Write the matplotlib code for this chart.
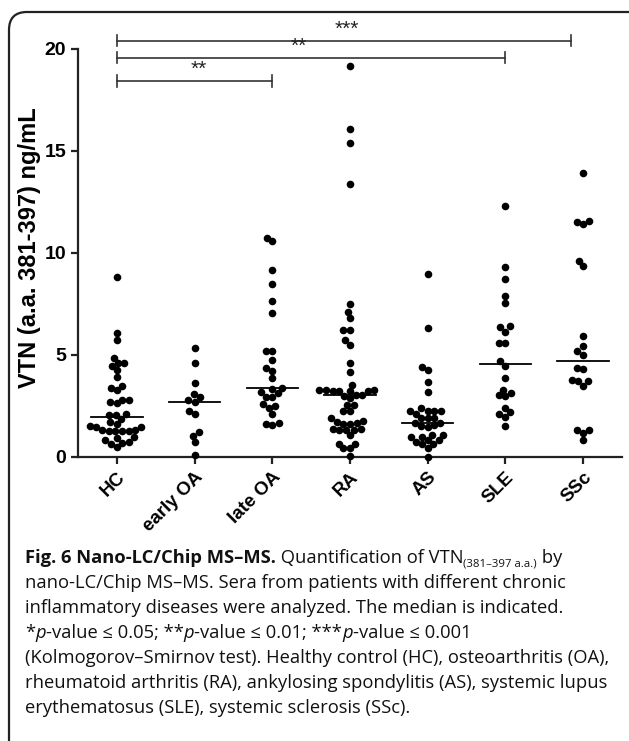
import numpy as np
import matplotlib
matplotlib.use('Agg')
import matplotlib.pyplot as plt
from matplotlib.patches import FancyBboxPatch
from matplotlib.transforms import IdentityTransform

groups = ['HC', 'early OA', 'late OA', 'RA', 'AS', 'SLE', 'SSc']

hc = [8.8, 6.08, 5.73, 4.83, 4.57, 4.60, 4.44, 4.24, 3.90, 3.39, 3.49, 3.28,
      2.80, 2.80, 2.62, 2.69, 2.08, 2.03, 1.83, 2.05, 1.59, 1.47, 1.46, 1.51,
      1.69, 1.30, 1.26, 1.28, 1.24, 1.27, 1.29, 0.92, 0.80, 0.67, 0.95, 0.73,
      0.62, 0.46]
early_oa = [5.33, 4.58, 3.60, 2.91, 3.08, 2.80, 2.70, 2.26, 2.11, 1.19, 1.03,
            0.71, 0.08]
late_oa = [10.74, 10.56, 9.17, 8.47, 7.63, 7.02, 5.17, 5.17, 4.74, 4.36, 4.20,
           3.87, 3.38, 3.30, 3.19, 2.93, 2.93, 3.11, 2.50, 2.39, 2.57, 2.11,
           1.67, 1.55, 1.62]
ra = [19.17, 16.08, 15.36, 13.37, 7.49, 7.09, 6.78, 6.21, 6.21, 5.70, 5.49,
      4.61, 4.14, 3.51, 3.29, 3.25, 3.22, 3.29, 3.22, 3.20, 3.22, 3.04, 3.04,
      2.97, 2.86, 2.52, 2.55, 2.24, 2.24, 1.88, 1.72, 1.62, 1.62, 1.65, 1.75,
      1.37, 1.31, 1.31, 1.31, 1.37, 1.05, 0.64, 0.64, 0.41, 0.41, 0.03]
as_ = [8.95, 6.29, 4.25, 4.39, 3.65, 3.16, 2.26, 2.26, 2.08, 2.37, 2.26, 2.25,
       1.88, 1.90, 1.89, 1.67, 1.54, 1.44, 1.52, 1.67, 1.06, 0.98, 0.98, 1.06,
       0.74, 0.61, 0.44, 0.61, 0.82, 0.80, 0.0]
sle = [12.27, 9.30, 8.70, 7.55, 7.88, 6.34, 6.13, 6.39, 5.57, 5.59, 4.67, 4.46,
       3.86, 3.27, 3.01, 2.96, 3.11, 2.08, 1.96, 2.18, 2.40, 1.50]
ssc = [13.92, 11.55, 11.39, 11.49, 9.59, 9.33, 5.92, 5.44, 5.00, 5.17, 4.36,
       4.28, 3.71, 3.48, 3.71, 3.77, 1.32, 1.16, 1.31, 0.82]

data = [hc, early_oa, late_oa, ra, as_, sle, ssc]

# significance brackets: (start group, end position, height, label, label x)
brackets = [(0, 5.84, 20.39, '***', 2.96),
            (0, 5.0, 19.56, '**', 2.34),
            (0, 2.0, 18.42, '**', 1.05)]

W, H = 629, 741
fig = plt.figure(figsize=(W / 100, H / 100), dpi=100)
ax = fig.add_axes([78 / W, 1 - 456.7 / H, 544 / W, 408 / H])
ax.set_xlim(-0.5, 6.5)
ax.set_ylim(0, 20)

px_x = 544 / 7.0
px_y = 408 / 20.0
dot = 6.7


def swarm(vals):
    # simple beeswarm in pixel space, nearest free spot to the group centre
    y = np.asarray(vals) * px_y
    offs = np.zeros(len(y))
    placed = []
    for i in np.argsort(y):
        near = [(x, yy) for x, yy in placed if abs(yy - y[i]) < dot]
        cands = [0.0]
        for x, yy in near:
            dx = np.sqrt(dot ** 2 - (yy - y[i]) ** 2)
            cands += [x + dx, x - dx]
        cands.sort(key=lambda c: (round(abs(c), 3), c))
        for c in cands:
            if all((c - x) ** 2 + (y[i] - yy) ** 2 >= dot ** 2 - 1e-6 for x, yy in near):
                offs[i] = c
                break
        placed.append((offs[i], y[i]))
    return offs / px_x


for k, vals in enumerate(data):
    xs = k + swarm(vals)
    ax.scatter(xs, vals, s=30, color='black', linewidths=0, zorder=3, clip_on=False)
    med = np.median(vals)
    ax.plot([k - 0.33, k + 0.33], [med, med], color='black', lw=1.3, zorder=2)

for x0, x1, h, lab, lx in brackets:
    ax.plot([x0, x1], [h, h], color='#333333', lw=1.2, clip_on=False)
    for xe in (x0, x1):
        ax.plot([xe, xe], [h - 0.28, h + 0.28], color='#333333', lw=1.2, clip_on=False)
    ax.text(lx, h + 0.1, lab, ha='center', va='bottom', fontsize=15,
            family='Liberation Sans', color='#222222')

for s in ['top', 'right']:
    ax.spines[s].set_visible(False)
for s in ['left', 'bottom']:
    ax.spines[s].set_linewidth(1.6)
    ax.spines[s].set_color('#222222')
ax.tick_params(width=1.6, length=5, color='#222222')
ax.set_yticks([0, 5, 10, 15, 20])
ax.set_yticklabels(['0', '5', '10', '15', '20'], fontsize=14, fontweight='bold',
                   family='Liberation Sans')
ax.set_xticks(range(len(groups)))
ax.set_xticklabels(groups, rotation=45, ha='right', va='top', rotation_mode='anchor',
                   fontsize=13.5, fontweight='bold', family='Liberation Sans')

fig.text(30 / W, 1 - 248 / H, 'VTN (a.a. 381-397) ng/mL', rotation=90, ha='center',
         va='center', fontsize=17, fontweight='bold', family='Liberation Sans')

# rounded frame around the figure
frame = FancyBboxPatch((9, -30), 640, H - 12 + 30, boxstyle='round,pad=0,rounding_size=18',
                       transform=IdentityTransform(), fill=False, lw=1.6, ec='#222222')
fig.add_artist(frame)

# caption, drawn piece by piece
renderer = fig.canvas.get_renderer()
cap_font = ['Open Sans', 'DejaVu Sans']
cap_size = 13.2


def line(y_px, pieces):
    x = 25
    for txt, style in pieces:
        kw = dict(fontsize=cap_size, family=cap_font, color='#111111')
        dy = 0
        if style == 'b':
            kw['fontweight'] = 'bold'
        elif style == 'i':
            kw['fontstyle'] = 'italic'
        elif style == 'sub':
            kw['fontsize'] = cap_size * 0.62
            dy = -4
        t = fig.text(x, H - y_px + dy, txt, transform=IdentityTransform(),
                     ha='left', va='baseline', **kw)
        x = t.get_window_extent(renderer).x1


caption = [
    [('Fig. 6 Nano-LC/Chip MS\u2013MS.', 'b'), (' Quantification of VTN', 'r'),
     ('(381\u2013397 a.a.)', 'sub'), (' by', 'r')],
    [('nano-LC/Chip MS\u2013MS. Sera from patients with different chronic', 'r')],
    [('inflammatory diseases were analyzed. The median is indicated.', 'r')],
    [('*', 'r'), ('p', 'i'), ('-value \u2264 0.05; **', 'r'), ('p', 'i'),
     ('-value \u2264 0.01; ***', 'r'), ('p', 'i'), ('-value \u2264 0.001', 'r')],
    [('(Kolmogorov\u2013Smirnov test). Healthy control (HC), osteoarthritis (OA),', 'r')],
    [('rheumatoid arthritis (RA), ankylosing spondylitis (AS), systemic lupus', 'r')],
    [('erythematosus (SLE), systemic sclerosis (SSc).', 'r')],
]
for n, pieces in enumerate(caption):
    line(563 + n * 25, pieces)

fig.savefig('out.png', dpi=100)
